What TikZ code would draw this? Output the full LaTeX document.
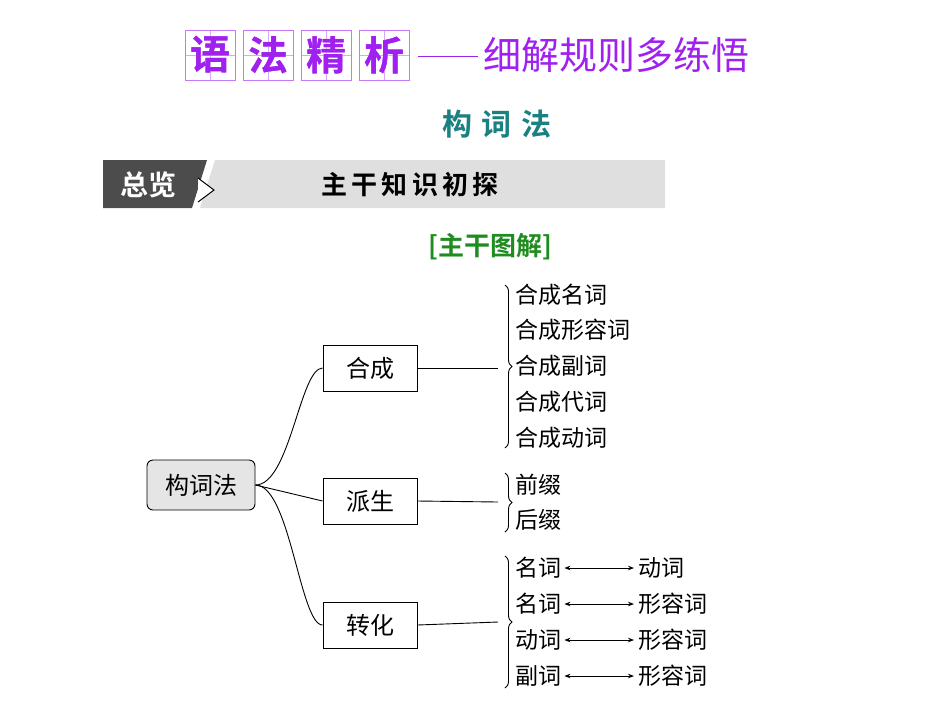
\documentclass[tikz,border=0pt]{standalone}
\usepackage{fontspec}
\newfontfamily\cjk{Noto Sans CJK SC}
\newfontfamily\cjkb{Noto Sans CJK SC Bold}
\usetikzlibrary{decorations.pathreplacing,arrows.meta}
\definecolor{purp}{HTML}{A020F0}
\definecolor{teal2}{HTML}{1A8080}
\definecolor{grn}{HTML}{1E8C1E}
\tikzset{
 box/.style={draw,line width=0.9pt,minimum width=94pt,minimum height=46pt,font=\cjk\fontsize{24}{24}\selectfont},
 item/.style={anchor=west,inner sep=0pt,font=\cjk\fontsize{23}{23}\selectfont},
 conn/.style={line width=0.9pt},
 brc/.style={decorate,decoration={brace,mirror,amplitude=7pt},line width=0.9pt},
 dbl/.style={{Stealth[length=6pt]}-{Stealth[length=6pt]},line width=0.8pt},
 tbox/.style={draw=purp!60,line width=0.6pt,minimum size=50pt,inner sep=0pt,font=\cjkb\fontsize{40}{40}\selectfont,text=purp}
}
\begin{document}
\begin{tikzpicture}[x=1pt,y=-1pt]
\useasboundingbox (0,0) rectangle (950,713);
% title
\foreach \c/\x [count=\i] in {语/210,法/268,精/326,析/384}{
 \node[tbox] (t\i) at (\x,55) {\c};
 \draw[purp!40,line width=0.4pt] (\x,30) -- (\x,80) (\x-25,55) -- (\x+25,55);
 \node[tbox,fill=none] at (\x,55) {\c};
}
\draw[purp,line width=1pt] (418,56) -- (478,56);
\node[anchor=west,inner sep=0pt,text=purp,font=\cjk\fontsize{38}{38}\selectfont] (sub) at (483,55) {细解规则多练悟};
\node[text=teal2,font=\cjkb\fontsize{30}{30}\selectfont] (ttl) at (497,124) {构\hspace{10pt}词\hspace{10pt}法};
% banner
\fill[gray!25] (215,160) -- (665,160) -- (665,208) -- (200,208) -- cycle;
\fill[black!70] (103,160) -- (207,160) -- (192,208) -- (103,208) -- cycle;
\draw[line width=1pt,fill=white] (198,178) -- (214,190) -- (198,202);
\node[text=white,font=\cjkb\fontsize{28}{28}\selectfont] (zl) at (148,185) {总览};
\node[font=\cjkb\fontsize{26}{26}\selectfont] (zg) at (410,185) {主\,干\,知\,识\,初\,探};
\node[text=grn,font=\cjkb\fontsize{26}{26}\selectfont] (tj) at (490,247) {[主干图解]};
% tree
\node[box,fill=gray!20,rounded corners=6pt,minimum width=108pt,minimum height=50pt] (root) at (201,485) {构词法};
\node[box] (hc) at (370,368) {合成};
\node[box] (ps) at (370,501) {派生};
\node[box] (zh) at (370,625) {转化};
\draw[conn] (root.east) .. controls (290,485) and (300,368) .. (hc.west);
\draw[conn] (root.east) -- (ps.west);
\draw[conn] (root.east) .. controls (290,485) and (300,625) .. (zh.west);
\coordinate (b1t) at (505,285); \coordinate (b1b) at (505,448);
\coordinate (b2t) at (505,473); \coordinate (b2b) at (505,532);
\coordinate (b3t) at (505,556); \coordinate (b3b) at (505,688);
\draw[brc] (b1b) -- (b1t);
\draw[brc] (b2b) -- (b2t);
\draw[brc] (b3b) -- (b3t);
\draw[conn] (hc.east) -- (498,368);
\draw[conn] (ps.east) -- (498,502);
\draw[conn] (zh.east) -- (498,622);
\foreach \t/\y [count=\i] in {合成名词/295,合成形容词/330,合成副词/366,合成代词/402,合成动词/438}
 \node[item] (a\i) at (515,\y) {\t};
\node[item] (p1) at (515,485) {前缀};
\node[item] (p2) at (515,520) {后缀};
\foreach \l/\r/\y [count=\i] in {名词/动词/568,名词/形容词/604,动词/形容词/640,副词/形容词/676}{
 \node[item] (l\i) at (515,\y) {\l};
 \node[item] (r\i) at (638,\y) {\r};
 \draw[dbl] (l\i.east) ++(3,0) coordinate (la\i) -- ([xshift=-4pt]r\i.west);
}
\end{tikzpicture}
\end{document}
